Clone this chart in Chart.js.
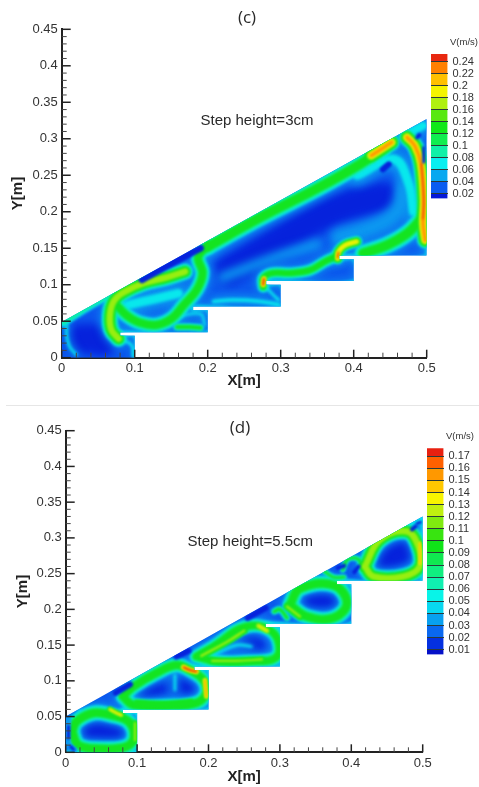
<!DOCTYPE html>
<html>
<head>
<meta charset="utf-8">
<title>Velocity contours</title>
<script src="https://cdn.jsdelivr.net/npm/chart.js@4/dist/chart.umd.min.js"></script>
<style>
  html, body { margin: 0; padding: 0; background: #fff; overflow: hidden; }
  canvas { position: absolute; filter: blur(0.4px); }
  #sep { position: absolute; left: 6px; right: 0; top: 405px; height: 1px; background: #e6e6e6; }
</style>
</head>
<body>
<canvas id="panelC" style="left:0;top:0"></canvas>
<canvas id="legendC" style="left:431px;top:30px"></canvas>
<div id="sep"></div>
<canvas id="panelD" style="left:0;top:406px"></canvas>
<canvas id="legendD" style="left:427px;top:425px"></canvas>
<script>
// axis ticks
const xMajor = [0, 0.1, 0.2, 0.3, 0.4, 0.5];
const xMinor = [0.02, 0.04, 0.06, 0.08, 0.12, 0.14, 0.16, 0.18, 0.22, 0.24, 0.26, 0.28, 0.32, 0.34, 0.36, 0.38, 0.42, 0.44, 0.46, 0.48];
const yMajor = [0, 0.05, 0.1, 0.15, 0.2, 0.25, 0.3, 0.35, 0.4, 0.45];
const yMinor = [0.01, 0.02, 0.03, 0.04, 0.06, 0.07, 0.08, 0.09, 0.11, 0.12, 0.13, 0.14, 0.16, 0.17, 0.18, 0.19, 0.21, 0.22, 0.23, 0.24, 0.26, 0.27, 0.28, 0.29, 0.31, 0.32, 0.33, 0.34, 0.36, 0.37, 0.38, 0.39, 0.41, 0.42, 0.43, 0.44];

// legend bands, bottom to top
const bandEdgesC = [0.012, 0.02, 0.04, 0.06, 0.08, 0.1, 0.12, 0.14, 0.16, 0.18, 0.2, 0.22, 0.24, 0.253];
const bandColorsC = ['#0418d8', '#0a5cf0', '#08a8f0', '#08eef0', '#10f0a8', '#10ee50', '#10e818', '#58e810', '#b0f010', '#f4f400', '#ffc000', '#ff8000', '#e82810'];
const legendTicksC = [0.02, 0.04, 0.06, 0.08, 0.1, 0.12, 0.14, 0.16, 0.18, 0.2, 0.22, 0.24];
const bandEdgesD = [0.0061, 0.01, 0.02, 0.03, 0.04, 0.05, 0.06, 0.07, 0.08, 0.09, 0.1, 0.11, 0.12, 0.13, 0.14, 0.15, 0.16, 0.17, 0.1766];
const bandColorsD = ['#0410c8', '#0430e0', '#0a68f0', '#08a0f0', '#08d8f0', '#08f4e8', '#10f0b0', '#10ee80', '#10e850', '#10e418', '#38e410', '#80ea10', '#c0f010', '#f8f400', '#ffc800', '#ff9800', '#ff6000', '#e82010'];
const legendTicksD = [0.01, 0.02, 0.03, 0.04, 0.05, 0.06, 0.07, 0.08, 0.09, 0.1, 0.11, 0.12, 0.13, 0.14, 0.15, 0.16, 0.17];

// contour level colours
const levelColors = ['#0622dc', '#0c98f0', '#08e8ec', '#10ee90', '#14e420', '#98ee10', '#f2f200', '#ff9a00', '#e42408'];
const levelBlur = [5, 4, 1.8, 1.4, 1.2, 1.2, 1.1, 1, 0.8];

// (c) outline and streaks, [x, y] in metres
const outlineC = [[0, 0], [0.1, 0], [0.1, 0.03], [0.08, 0.03], [0.08, 0.035], [0.2, 0.035], [0.2, 0.065], [0.18, 0.065], [0.18, 0.07], [0.3, 0.07], [0.3, 0.1], [0.28, 0.1], [0.28, 0.105], [0.4, 0.105], [0.4, 0.135], [0.38, 0.135], [0.38, 0.14], [0.5, 0.14], [0.5, 0.327], [0, 0.049]];
const stepEdgeC = [[0.1, 0], [0.1, 0.03], [0.08, 0.03], [0.08, 0.035], [0.2, 0.035], [0.2, 0.065], [0.18, 0.065], [0.18, 0.07], [0.3, 0.07], [0.3, 0.1], [0.28, 0.1], [0.28, 0.105], [0.4, 0.105], [0.4, 0.135], [0.38, 0.135], [0.38, 0.14], [0.5, 0.14], [0.5, 0.18]];
const hypLowC = [[0.002, 0.048], [0.035, 0.069], [0.07, 0.089]];
const cornerLeftC = [[0.007, 0.045], [0.007, 0.029], [0.011, 0.015], [0.02, 0.004]];
const ringStepOneC = [[0.08, 0.026], [0.096, 0.017], [0.098, 0.002]];
const lobeUpperC = [[0.169, 0.118], [0.144, 0.11], [0.112, 0.102], [0.084, 0.089], [0.071, 0.077], [0.066, 0.058], [0.068, 0.038], [0.078, 0.026]];
const lobeLowerC = [[0.075, 0.072], [0.089, 0.058], [0.107, 0.048], [0.13, 0.045], [0.151, 0.054], [0.167, 0.072], [0.185, 0.093], [0.193, 0.116], [0.187, 0.138], [0.201, 0.154]];
const pocketC = [[0.158, 0.042], [0.176, 0.042], [0.19, 0.041]];
const pocketRimC = [[0.152, 0.055], [0.19, 0.06], [0.196, 0.045]];
const upperBandC = [[0.2, 0.152], [0.27, 0.191], [0.35, 0.232], [0.41, 0.266], [0.44, 0.287]];
const topBlobC = [[0.424, 0.277], [0.441, 0.288], [0.452, 0.295]];
const rightWallC = [[0.473, 0.302], [0.484, 0.29], [0.492, 0.266], [0.496, 0.216], [0.495, 0.184], [0.498, 0.161]];
const rightCoreC = [[0.493, 0.266], [0.496, 0.216], [0.495, 0.19]];
const flowStepThreeC = [[0.276, 0.097], [0.276, 0.109], [0.288, 0.116], [0.313, 0.116], [0.34, 0.12], [0.361, 0.132], [0.374, 0.138]];
const hookThreeC = [[0.276, 0.1], [0.277, 0.108]];
const hookFourC = [[0.378, 0.136], [0.379, 0.145], [0.388, 0.154], [0.404, 0.159]];
const hookFourTipC = [[0.378, 0.137], [0.379, 0.144]];
const rightFlowC = [[0.413, 0.143], [0.445, 0.154], [0.473, 0.17], [0.492, 0.189]];
const stripC = [[0.208, 0.077], [0.235, 0.079], [0.272, 0.077], [0.297, 0.073]];
const stripRimC = [[0.279, 0.097], [0.297, 0.079]];
const darkLeftC = [[0.02, 0.025], [0.04, 0.026], [0.055, 0.022]];
const darkMainC = [[0.23, 0.12], [0.28, 0.15], [0.33, 0.18], [0.38, 0.205], [0.44, 0.22]];
const darkWedgeC = [[0.11, 0.107], [0.15, 0.129], [0.19, 0.15]];
const washBetweenC = [[0.09, 0.072], [0.125, 0.08], [0.16, 0.088]];
const washRightC = [[0.405, 0.25], [0.455, 0.272], [0.475, 0.24], [0.482, 0.2]];
const washMidC = [[0.38, 0.165], [0.43, 0.18], [0.46, 0.2], [0.47, 0.23]];
const washCentreC = [[0.22, 0.11], [0.3, 0.14], [0.35, 0.155]];
const cornerTopC = [[0.47, 0.305], [0.495, 0.318]];
const spotC = [[0.44, 0.258], [0.448, 0.265]];
const spotTopOneC = [[0.487, 0.302], [0.49, 0.305]];
const spotTopTwoC = [[0.496, 0.268], [0.496, 0.288]];

// (d) outline and streaks
const outlineD = [[0, 0], [0.1, 0], [0.1, 0.055], [0.08, 0.055], [0.08, 0.06], [0.2, 0.06], [0.2, 0.115], [0.18, 0.115], [0.18, 0.12], [0.3, 0.12], [0.3, 0.175], [0.28, 0.175], [0.28, 0.18], [0.4, 0.18], [0.4, 0.235], [0.38, 0.235], [0.38, 0.24], [0.5, 0.24], [0.5, 0.33], [0, 0.05]];
const stepEdgeD = [[0, 0], [0.1, 0], [0.1, 0.055], [0.08, 0.055], [0.08, 0.06], [0.2, 0.06], [0.2, 0.115], [0.18, 0.115], [0.18, 0.12], [0.3, 0.12], [0.3, 0.175], [0.28, 0.175], [0.28, 0.18], [0.4, 0.18], [0.4, 0.235], [0.38, 0.235], [0.38, 0.24], [0.5, 0.24], [0.5, 0.33]];
const ringOneD = [[0.009, 0.029], [0.015, 0.043], [0.039, 0.055], [0.064, 0.052], [0.088, 0.043], [0.096, 0.022], [0.085, 0.008], [0.048, 0.005], [0.018, 0.01], [0.009, 0.029]];
const hookOneD = [[0.062, 0.06], [0.071, 0.055], [0.078, 0.052]];
const wallOneD = [[0.097, 0.041], [0.097, 0.017]];
const ringTwoD = [[0.08, 0.078], [0.095, 0.092], [0.127, 0.111], [0.155, 0.122], [0.174, 0.115], [0.193, 0.101], [0.197, 0.083], [0.183, 0.069], [0.141, 0.065], [0.095, 0.066], [0.08, 0.078]];
const hookTwoD = [[0.165, 0.119], [0.174, 0.115], [0.183, 0.113]];
const wallTwoD = [[0.195, 0.101], [0.197, 0.078]];
const splitTwoD = [[0.153, 0.108], [0.153, 0.087]];
const bottomTwoD = [[0.1, 0.069], [0.14, 0.067], [0.175, 0.07]];
const ringThreeD = [[0.183, 0.134], [0.207, 0.148], [0.253, 0.176], [0.291, 0.167], [0.296, 0.134], [0.253, 0.127], [0.211, 0.127], [0.183, 0.134]];
const bandThreeD = [[0.19, 0.135], [0.225, 0.154], [0.25, 0.17]];
const bottomThreeD = [[0.205, 0.128], [0.24, 0.128], [0.275, 0.13]];
const hookThreeD = [[0.27, 0.177], [0.282, 0.17]];
const coreThreeD = [[0.21, 0.138], [0.24, 0.15], [0.26, 0.148]];
const ringFourD = [[0.314, 0.206], [0.328, 0.229], [0.375, 0.234], [0.394, 0.209], [0.375, 0.188], [0.338, 0.19], [0.314, 0.206]];
const slashFourD = [[0.31, 0.204], [0.328, 0.19]];
const arcFourD = [[0.292, 0.197], [0.3, 0.2], [0.31, 0.188]];
const ringFiveD = [[0.419, 0.26], [0.44, 0.297], [0.478, 0.309], [0.494, 0.288], [0.496, 0.26], [0.473, 0.246], [0.431, 0.246], [0.419, 0.26]];
const wallFiveD = [[0.496, 0.293], [0.496, 0.264]];
const archOneD = [[0.388, 0.255], [0.395, 0.27], [0.41, 0.27], [0.416, 0.255]];
const archTwoD = [[0.36, 0.255], [0.375, 0.245], [0.39, 0.245]];
const cornerTopD = [[0.475, 0.315], [0.497, 0.325]];
const darkOneD = [[0.02, 0.03], [0.05, 0.029], [0.075, 0.027]];
const darkTwoD = [[0.1, 0.08], [0.13, 0.088]];
const darkTwoRightD = [[0.16, 0.096], [0.175, 0.088]];
const darkThreeD = [[0.195, 0.134], [0.225, 0.14]];
const darkThreeRightD = [[0.255, 0.155], [0.268, 0.15]];
const darkFourD = [[0.33, 0.21], [0.36, 0.212], [0.38, 0.215]];
const darkFiveD = [[0.44, 0.268], [0.46, 0.275], [0.48, 0.285]];
const spotOneD = [[0.381, 0.258], [0.39, 0.261]];
const spotTwoD = [[0.404, 0.252], [0.41, 0.26]];
const spotThreeD = [[0.485, 0.312], [0.49, 0.316]];
const spotFourD = [[0.492, 0.32], [0.497, 0.322]];
const wedgeOneD = [[0.02, 0.058], [0.008, 0.02]];
const wedgeTwoD = [[0.07, 0.083], [0.09, 0.095]];
const wedgeThreeD = [[0.155, 0.134], [0.172, 0.142]];
const wedgeFourD = [[0.255, 0.188], [0.28, 0.202]];
const cornerOneD = [[0.003, 0.046], [0.003, 0.012], [0.012, 0.003]];
const cornerSpotD = [[0.004, 0.036], [0.004, 0.02]];
const cornerSpotLowD = [[0.007, 0.008], [0.011, 0.004]];

// top/from = level index, w = stroke width of the widest layer
const streaksC = [
  { pts: darkLeftC, from: 0, top: 0, w: 30 },
  { pts: darkMainC, from: 0, top: 0, w: 30 },
  { pts: darkWedgeC, from: 0, top: 0, w: 7, late: true },
  { pts: washBetweenC, from: 1, top: 2, w: 20 },
  { pts: washRightC, from: 1, top: 2, w: 20 },
  { pts: washMidC, from: 1, top: 1, w: 18 },
  { pts: washCentreC, from: 1, top: 1, w: 10 },
  { pts: cornerTopC, from: 1, top: 2, w: 18 },
  { pts: stripC, from: 1, top: 2, w: 8 },
  { pts: stripRimC, from: 2, top: 2, w: 3 },
  { pts: stepEdgeC, from: 1, top: 2, w: 5 },
  { pts: hypLowC, from: 2, top: 3, w: 8 },
  { pts: cornerLeftC, from: 1, top: 2, w: 6 },
  { pts: ringStepOneC, from: 2, top: 2, w: 3 },
  { pts: lobeUpperC, from: 1, top: 5, w: 18 },
  { pts: lobeLowerC, from: 1, top: 4, w: 17 },
  { pts: pocketC, from: 1, top: 4, w: 8 },
  { pts: pocketRimC, from: 1, top: 2, w: 5 },
  { pts: upperBandC, from: 1, top: 4, w: 20 },
  { pts: topBlobC, from: 1, top: 7, w: 17 },
  { pts: rightWallC, from: 1, top: 7, w: 17 },
  { pts: rightCoreC, from: 8, top: 8, w: 2.5 },
  { pts: flowStepThreeC, from: 1, top: 4, w: 13 },
  { pts: hookThreeC, from: 5, top: 8, w: 7 },
  { pts: hookFourC, from: 1, top: 6, w: 12 },
  { pts: hookFourTipC, from: 7, top: 8, w: 4 },
  { pts: rightFlowC, from: 1, top: 4, w: 20 },
  { pts: spotC, from: 0, top: 0, w: 6, late: true },
  { pts: spotTopOneC, from: 0, top: 0, w: 4, late: true },
  { pts: spotTopTwoC, from: 0, top: 0, w: 3, late: true }
];
const streaksD = [
  { pts: darkOneD, from: 0, top: 0, w: 24 },
  { pts: darkTwoD, from: 0, top: 0, w: 17 },
  { pts: darkTwoRightD, from: 0, top: 0, w: 16 },
  { pts: darkThreeD, from: 0, top: 0, w: 10 },
  { pts: darkThreeRightD, from: 0, top: 0, w: 17 },
  { pts: darkFourD, from: 0, top: 0, w: 20 },
  { pts: darkFiveD, from: 0, top: 0, w: 26 },
  { pts: coreThreeD, from: 1, top: 2, w: 6 },
  { pts: splitTwoD, from: 1, top: 2, w: 6 },
  { pts: stepEdgeD, from: 2, top: 2, w: 4 },
  { pts: ringOneD, from: 1, top: 4, w: 18 },
  { pts: hookOneD, from: 4, top: 6, w: 6 },
  { pts: wallOneD, from: 4, top: 5, w: 6 },
  { pts: ringTwoD, from: 1, top: 4, w: 17 },
  { pts: hookTwoD, from: 5, top: 8, w: 7 },
  { pts: wallTwoD, from: 5, top: 7, w: 6 },
  { pts: bottomTwoD, from: 4, top: 4, w: 7 },
  { pts: ringThreeD, from: 1, top: 4, w: 16 },
  { pts: bandThreeD, from: 4, top: 5, w: 7 },
  { pts: bottomThreeD, from: 4, top: 5, w: 6 },
  { pts: hookThreeD, from: 5, top: 6, w: 6 },
  { pts: ringFourD, from: 1, top: 4, w: 18 },
  { pts: slashFourD, from: 4, top: 5, w: 7 },
  { pts: arcFourD, from: 2, top: 4, w: 6 },
  { pts: ringFiveD, from: 1, top: 5, w: 18 },
  { pts: wallFiveD, from: 6, top: 7, w: 4 },
  { pts: archOneD, from: 2, top: 4, w: 5 },
  { pts: archTwoD, from: 2, top: 4, w: 5 },
  { pts: cornerTopD, from: 1, top: 2, w: 14 },
  { pts: cornerOneD, from: 1, top: 1, w: 6, late: true },
  { pts: cornerSpotD, from: 0, top: 0, w: 3, late: true },
  { pts: cornerSpotLowD, from: 0, top: 0, w: 3, late: true },
  { pts: spotOneD, from: 0, top: 0, w: 4, late: true },
  { pts: spotTwoD, from: 0, top: 0, w: 4, late: true },
  { pts: spotThreeD, from: 0, top: 0, w: 4, late: true },
  { pts: spotFourD, from: 0, top: 0, w: 3, late: true },
  { pts: wedgeOneD, from: 2, top: 2, w: 3 },
  { pts: wedgeTwoD, from: 0, top: 0, w: 6, late: true },
  { pts: wedgeThreeD, from: 0, top: 0, w: 6, late: true },
  { pts: wedgeFourD, from: 0, top: 0, w: 6, late: true }
];

function line(pts, color, width, blur) {
  return {
    data: pts.map(p => ({ x: p[0], y: p[1] })),
    showLine: true,
    tension: 0.4,
    pointRadius: 0,
    borderColor: color,
    borderWidth: width,
    borderCapStyle: 'round',
    borderJoinStyle: 'round',
    blur: blur
  };
}

// one dataset per streak per level, low levels first so the peaks end up on top
function buildLayers(streaks) {
  const out = [];
  const add = (s, lvl, blur) => {
    let ratio = 1;
    if (s.top > s.from) ratio = 1 - 0.55 * (lvl - s.from) / (s.top - s.from);
    if (lvl > 4) ratio *= Math.pow(0.8, lvl - 4);
    out.push(line(s.pts, levelColors[lvl], s.w * ratio, blur));
  };
  levelColors.forEach((c, lvl) => {
    streaks.forEach(s => {
      if (!s.late && lvl >= s.from && lvl <= s.top) add(s, lvl, levelBlur[lvl]);
    });
  });
  streaks.forEach(s => { if (s.late) add(s, s.top, 1.2); });
  out.forEach((d, i) => { d.order = -i; });
  return out;
}

const fieldPlugin = {
  id: 'field',
  beforeDatasetsDraw(chart, args, opts) {
    const c = chart.ctx, sx = chart.scales.x, sy = chart.scales.y;
    c.save();
    c.beginPath();
    opts.outline.forEach((p, i) => {
      const px = sx.getPixelForValue(p[0]), py = sy.getPixelForValue(p[1]);
      if (i === 0) c.moveTo(px, py); else c.lineTo(px, py);
    });
    c.closePath();
    c.clip();
    c.fillStyle = opts.base;
    c.fillRect(chart.chartArea.left, chart.chartArea.top, chart.chartArea.width, chart.chartArea.height);
  },
  beforeDatasetDraw(chart, args) {
    chart.ctx.filter = 'blur(' + chart.data.datasets[args.index].blur + 'px)';
  },
  afterDatasetsDraw(chart) {
    chart.ctx.filter = 'none';
    chart.ctx.restore();
  }
};

const marksPlugin = {
  id: 'marks',
  afterDraw(chart, args, opts) {
    const c = chart.ctx, sx = chart.scales.x, sy = chart.scales.y;
    const left = chart.chartArea.left, bottom = chart.chartArea.bottom;
    c.save();
    c.strokeStyle = '#222';
    c.lineWidth = 1.5;
    yMajor.forEach(v => { const p = sy.getPixelForValue(v); c.beginPath(); c.moveTo(left, p); c.lineTo(left + 9, p); c.stroke(); });
    xMajor.forEach(v => { const p = sx.getPixelForValue(v); c.beginPath(); c.moveTo(p, bottom); c.lineTo(p, bottom - 8); c.stroke(); });
    c.lineWidth = 1;
    c.strokeStyle = '#444';
    yMinor.forEach(v => { const p = sy.getPixelForValue(v); c.beginPath(); c.moveTo(left, p); c.lineTo(left + 5, p); c.stroke(); });
    xMinor.forEach(v => { const p = sx.getPixelForValue(v); c.beginPath(); c.moveTo(p, bottom); c.lineTo(p, bottom - 5); c.stroke(); });
    c.fillStyle = '#2a2a2a';
    c.textAlign = 'center';
    c.textBaseline = 'middle';
    c.font = '15px "Liberation Sans", Arial, sans-serif';
    c.fillText(opts.note, sx.getPixelForValue(opts.noteX), sy.getPixelForValue(opts.noteY));
    c.font = '17px "Open Sans", sans-serif';
    c.fillText(opts.label, opts.labelX, opts.labelY);
    c.restore();
  }
};

function panel(id, w, h, opts) {
  const el = document.getElementById(id);
  el.width = w; el.height = h;
  el.style.width = w + 'px'; el.style.height = h + 'px';
  return new Chart(el, {
    type: 'scatter',
    data: { datasets: buildLayers(opts.streaks) },
    plugins: [fieldPlugin, marksPlugin],
    options: {
      responsive: false,
      animation: false,
      layout: { padding: { top: opts.top, right: w - opts.right } },
      plugins: {
        legend: { display: false },
        tooltip: { enabled: false },
        field: { outline: opts.outline, base: '#0c58ee' },
        marks: { note: opts.note, noteX: opts.noteX, noteY: opts.noteY, label: opts.label, labelX: opts.labelX, labelY: opts.labelY }
      },
      scales: {
        x: {
          type: 'linear', min: 0, max: 0.5,
          afterBuildTicks: s => { s.ticks = xMajor.map(v => ({ value: v })); },
          afterFit: s => { s.height = opts.axisH; },
          grid: { drawOnChartArea: false, drawTicks: false },
          border: { color: '#222', width: 2 },
          ticks: { autoSkip: false, maxRotation: 0, padding: 3, color: '#333', font: { family: '"Liberation Sans", Arial, sans-serif', size: 13 }, callback: v => String(v) },
          title: { display: true, text: 'X[m]', color: '#222', padding: { top: 0, bottom: opts.xTitlePad }, font: { family: '"Liberation Sans", Arial, sans-serif', size: 15, weight: 'bold' } }
        },
        y: {
          type: 'linear', min: 0, max: 0.45,
          afterBuildTicks: s => { s.ticks = yMajor.map(v => ({ value: v })); },
          afterFit: s => { s.width = opts.left; },
          grid: { drawOnChartArea: false, drawTicks: false },
          border: { color: '#222', width: 2 },
          ticks: { autoSkip: false, padding: 4, color: '#333', font: { family: '"Liberation Sans", Arial, sans-serif', size: 13 }, callback: v => String(v) },
          title: { display: true, text: 'Y[m]', color: '#222', padding: { top: opts.yTitlePad, bottom: 0 }, font: { family: '"Liberation Sans", Arial, sans-serif', size: 15, weight: 'bold' } }
        }
      }
    }
  });
}

const legendTitle = {
  id: 'legendTitle',
  afterDraw(chart) {
    const c = chart.ctx;
    c.save();
    c.fillStyle = '#333';
    c.font = '9.5px "Liberation Sans", Arial, sans-serif';
    c.textBaseline = 'middle';
    c.textAlign = 'left';
    c.fillText('V(m/s)', chart.chartArea.left + 19, chart.chartArea.top - 12);
    c.restore();
  }
};

function legendBar(id, w, h, edges, colors, tickVals, topPad) {
  const el = document.getElementById(id);
  el.width = w; el.height = h;
  el.style.width = w + 'px'; el.style.height = h + 'px';
  new Chart(el, {
    type: 'bar',
    data: {
      labels: ['V'],
      datasets: colors.map((col, i) => ({ data: [[edges[i], edges[i + 1]]], backgroundColor: col, grouped: false, barPercentage: 1, categoryPercentage: 1 }))
    },
    plugins: [legendTitle],
    options: {
      responsive: false,
      animation: false,
      layout: { padding: { top: topPad, bottom: 1 } },
      plugins: { legend: { display: false }, tooltip: { enabled: false } },
      scales: {
        x: { display: false },
        y: {
          position: 'right',
          min: edges[0], max: edges[edges.length - 1],
          afterBuildTicks: s => { s.ticks = tickVals.map(v => ({ value: v })); },
          afterFit: s => { s.width = w - 16.5; },
          grid: { z: 1, color: '#2a3a3a', lineWidth: 1, drawTicks: false },
          border: { display: false },
          ticks: { autoSkip: false, padding: 5, color: '#333', font: { family: '"Liberation Sans", Arial, sans-serif', size: 11 }, callback: v => String(v) }
        }
      }
    }
  });
}

panel('panelC', 479, 400, {
  streaks: streaksC, outline: outlineC, top: 29.3, left: 61.7, right: 426.7, axisH: 42.3,
  xTitlePad: 10, yTitlePad: 9,
  note: 'Step height=3cm', noteX: 0.2675, noteY: 0.324,
  label: '(c)', labelX: 247, labelY: 18
});
panel('panelD', 479, 381, {
  streaks: streaksD, outline: outlineD, top: 24.7, left: 65.7, right: 422.7, axisH: 34.7,
  xTitlePad: 1, yTitlePad: 14,
  note: 'Step height=5.5cm', noteX: 0.2585, noteY: 0.2947,
  label: '(d)', labelX: 240, labelY: 22
});
legendBar('legendC', 48, 180, bandEdgesC, bandColorsC, legendTicksC, 24);
legendBar('legendD', 52, 241, bandEdgesD, bandColorsD, legendTicksD, 23.3);
</script>
</body>
</html>
